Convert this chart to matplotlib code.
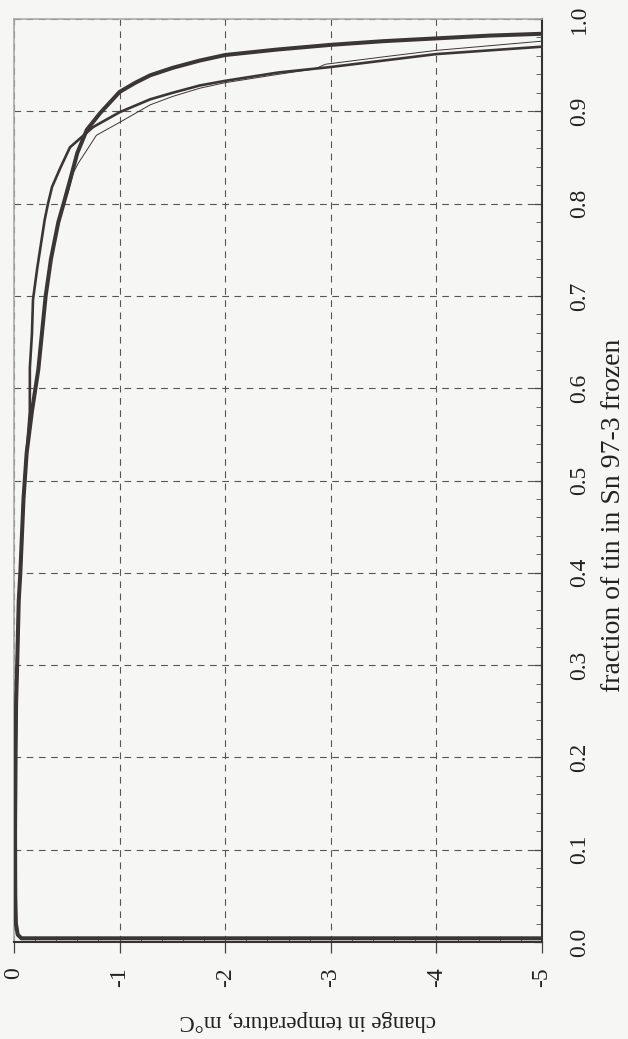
#     *****     import     *****
import numpy as np
import matplotlib
matplotlib.use('Agg')
import matplotlib.pyplot as plt
from matplotlib.ticker import MultipleLocator

#     *****     Dati     *****
# change in temperature (m°C) vs fraction frozen, three freezes
dT_thick = [-5.0, -0.07, -0.035, -0.018, -0.012, -0.01, -0.015, -0.02, -0.03, -0.045,
            -0.06, -0.09, -0.12, -0.17, -0.23, -0.265, -0.30, -0.35, -0.42, -0.47,
            -0.53, -0.60, -0.69, -0.815, -1.0, -1.15, -1.29, -1.5, -1.76, -2.0, -2.5,
            -3.0, -3.5, -4.0, -4.5, -5.0]
fr_thick = [0.004, 0.004, 0.008, 0.02, 0.05, 0.12, 0.20, 0.26, 0.30, 0.37,
            0.40, 0.48, 0.53, 0.575, 0.62, 0.66, 0.70, 0.74, 0.78, 0.80,
            0.825, 0.855, 0.88, 0.898, 0.921, 0.931, 0.939, 0.947, 0.955, 0.961, 0.967,
            0.972, 0.976, 0.979, 0.982, 0.984]

dT_medium = [-5.0, -0.07, -0.035, -0.018, -0.012, -0.01, -0.015, -0.02, -0.03, -0.045,
             -0.06, -0.09, -0.12, -0.15, -0.15, -0.17, -0.18, -0.22, -0.29, -0.32,
             -0.36, -0.44, -0.53, -0.75, -1.0, -1.29, -1.5, -1.76, -2.0, -2.5,
             -3.0, -3.5, -4.0, -4.5, -5.0]
fr_medium = [0.004, 0.004, 0.008, 0.02, 0.05, 0.12, 0.20, 0.26, 0.30, 0.37,
             0.40, 0.48, 0.53, 0.575, 0.622, 0.659, 0.696, 0.73, 0.782, 0.799,
             0.818, 0.839, 0.861, 0.883, 0.899, 0.913, 0.920, 0.928, 0.933, 0.942,
             0.948, 0.955, 0.962, 0.966, 0.970]

dT_thin = [-5.0, -0.07, -0.035, -0.018, -0.012, -0.01, -0.015, -0.02, -0.03, -0.045,
           -0.06, -0.09, -0.12, -0.17, -0.23, -0.265, -0.30, -0.35, -0.42, -0.47,
           -0.51, -0.56, -0.61, -0.69, -0.78, -1.0, -1.29, -1.5, -1.76, -2.0,
           -2.5, -2.85, -2.95, -3.5, -4.0, -4.5, -5.0]
fr_thin = [0.004, 0.004, 0.008, 0.02, 0.05, 0.12, 0.20, 0.26, 0.30, 0.37,
           0.40, 0.48, 0.53, 0.575, 0.62, 0.66, 0.70, 0.74, 0.78, 0.80,
           0.811, 0.833, 0.844, 0.858, 0.874, 0.888, 0.907, 0.916, 0.925, 0.931,
           0.940, 0.946, 0.951, 0.959, 0.966, 0.971, 0.976]

temp_ticks = [0, -1, -2, -3, -4, -5]
frac_ticks = [0.0, 0.1, 0.2, 0.3, 0.4, 0.5, 0.6, 0.7, 0.8, 0.9, 1.0]

#     *****     Figura     *****
plt.rcParams['font.family'] = ['Liberation Serif', 'DejaVu Serif']
bg = '#f6f6f4'
col = '#3b3636'

fig = plt.figure(figsize=(6.28, 10.39), dpi=100, facecolor=bg)
ax = fig.add_axes([14/628, 1-942/1039, 528/628, 923/1039], facecolor=bg)

ax.plot(dT_medium, fr_medium, color=col, lw=1.9, zorder=3)
ax.plot(dT_thin, fr_thin, color=col, lw=0.7, zorder=3)
ax.plot(dT_thick, fr_thick, color=col, lw=2.9, zorder=4)

ax.set_xlim(0, -5)
ax.set_ylim(0, 1)

# assi: temperatura in basso, frazione a destra
ax.yaxis.tick_right()
ax.set_xticks(temp_ticks)
ax.set_xticklabels([str(t) for t in temp_ticks], rotation=90)
ax.set_yticks(frac_ticks)
ax.set_yticklabels(['%.1f' % f for f in frac_ticks], rotation=90, va='center')
ax.xaxis.set_minor_locator(MultipleLocator(0.2))
ax.yaxis.set_minor_locator(MultipleLocator(0.02))

ax.tick_params(axis='x', which='major', direction='out', length=8, width=0.9,
               color='#444444', labelsize=17, pad=10, labelcolor='#222222')
ax.tick_params(axis='x', which='minor', direction='in', length=4, width=0.7, color='#666666')
ax.tick_params(axis='y', which='major', direction='in', length=6, width=0.9,
               color='#444444', labelsize=17, pad=19.5, labelcolor='#222222')
ax.tick_params(axis='y', which='minor', direction='in', length=4, width=0.7, color='#666666')

ax.grid(True, which='major', linestyle=(0, (6, 5)), color='#555555', lw=0.8)

for s in ['top', 'left']:
    ax.spines[s].set_color('#aaaaaa')
    ax.spines[s].set_linewidth(1.2)
for s in ['right', 'bottom']:
    ax.spines[s].set_color('#333333')
    ax.spines[s].set_linewidth(1.5)

# etichette (grafico ruotato)
fig.text(308/628, 1-1021/1039, 'change in temperature, m\u00b0C', rotation=180,
         ha='center', va='center', fontsize=16.5, color='#222222')
fig.text(613/628, 1-515/1039, 'fraction of tin in Sn 97-3 frozen', rotation=90,
         ha='center', va='center', fontsize=20, color='#222222')

fig.savefig('out.png', dpi=100, facecolor=bg)
